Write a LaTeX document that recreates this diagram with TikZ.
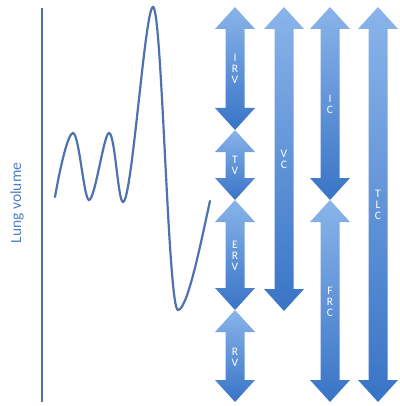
\documentclass[tikz,border=0pt]{standalone}
\usepackage{fontspec}
\setmainfont{Carlito}
\definecolor{lineblue}{RGB}{79,114,174}
\definecolor{txtblue}{RGB}{79,129,189}
\definecolor{arrtop}{RGB}{138,180,234}
\definecolor{arrbot}{RGB}{56,116,198}
\newcommand\dblarrow[3]{%
  \shade[top color=arrtop,bottom color=arrbot]
    (#1,#2) -- ++(20,22) -- ++(-10.5,0) -- (#1+9.5,#3-22) -- ++(10.5,0)
    -- (#1,#3) -- ++(-20,-22) -- ++(10.5,0) -- (#1-9.5,#2+22) -- ++(-10.5,0) -- cycle;}
\tikzset{
  lbl/.style={text=white,font=\fontsize{11.5}{10.8}\selectfont,align=center,inner sep=0pt},
  curveline/.style={draw=lineblue,line width=2.2pt,line cap=round},
}
\begin{document}
\begin{tikzpicture}[x=1pt,y=-1pt]
\useasboundingbox (0,0) rectangle (399,406);
% axis
\coordinate (axtop) at (42,8);
\coordinate (axbot) at (42,402);
\draw[draw=lineblue,line width=1.8pt] (axtop) -- (axbot);
\node[rotate=90,text=txtblue,font=\fontsize{15.5}{18}\selectfont] (lv) at (17,203) {Lung volume};
% breathing curve
\draw[curveline] (55,197) .. controls (60,168) and (68,133) .. (73,133)
  .. controls (79,133) and (84,200) .. (89,200)
  .. controls (95,200) and (104,133) .. (109,133)
  .. controls (115,133) and (118,202) .. (123,202)
  .. controls (132,202) and (145,7) .. (153,7)
  .. controls (162,7) and (168,310) .. (178,310)
  .. controls (188,310) and (203,232) .. (210,201);
% arrows
\dblarrow{235}{7}{130}
\dblarrow{235}{130}{200}
\dblarrow{235}{200}{310}
\dblarrow{235}{310}{402}
\dblarrow{284}{7}{311}
\dblarrow{330}{7}{200}
\dblarrow{330}{200}{402}
\dblarrow{378}{7}{402}
% labels
\node[lbl] (irv) at (235,69) {I\\R\\V};
\node[lbl] (tv) at (235,165) {T\\V};
\node[lbl] (erv) at (235,256) {E\\R\\V};
\node[lbl] (rv) at (235,357) {R\\V};
\node[lbl] (vc) at (284,159) {V\\C};
\node[lbl] (ic) at (330,104) {I\\C};
\node[lbl] (frc) at (330,302) {F\\R\\C};
\node[lbl] (tlc) at (378,205) {T\\L\\C};
\end{tikzpicture}
\end{document}
